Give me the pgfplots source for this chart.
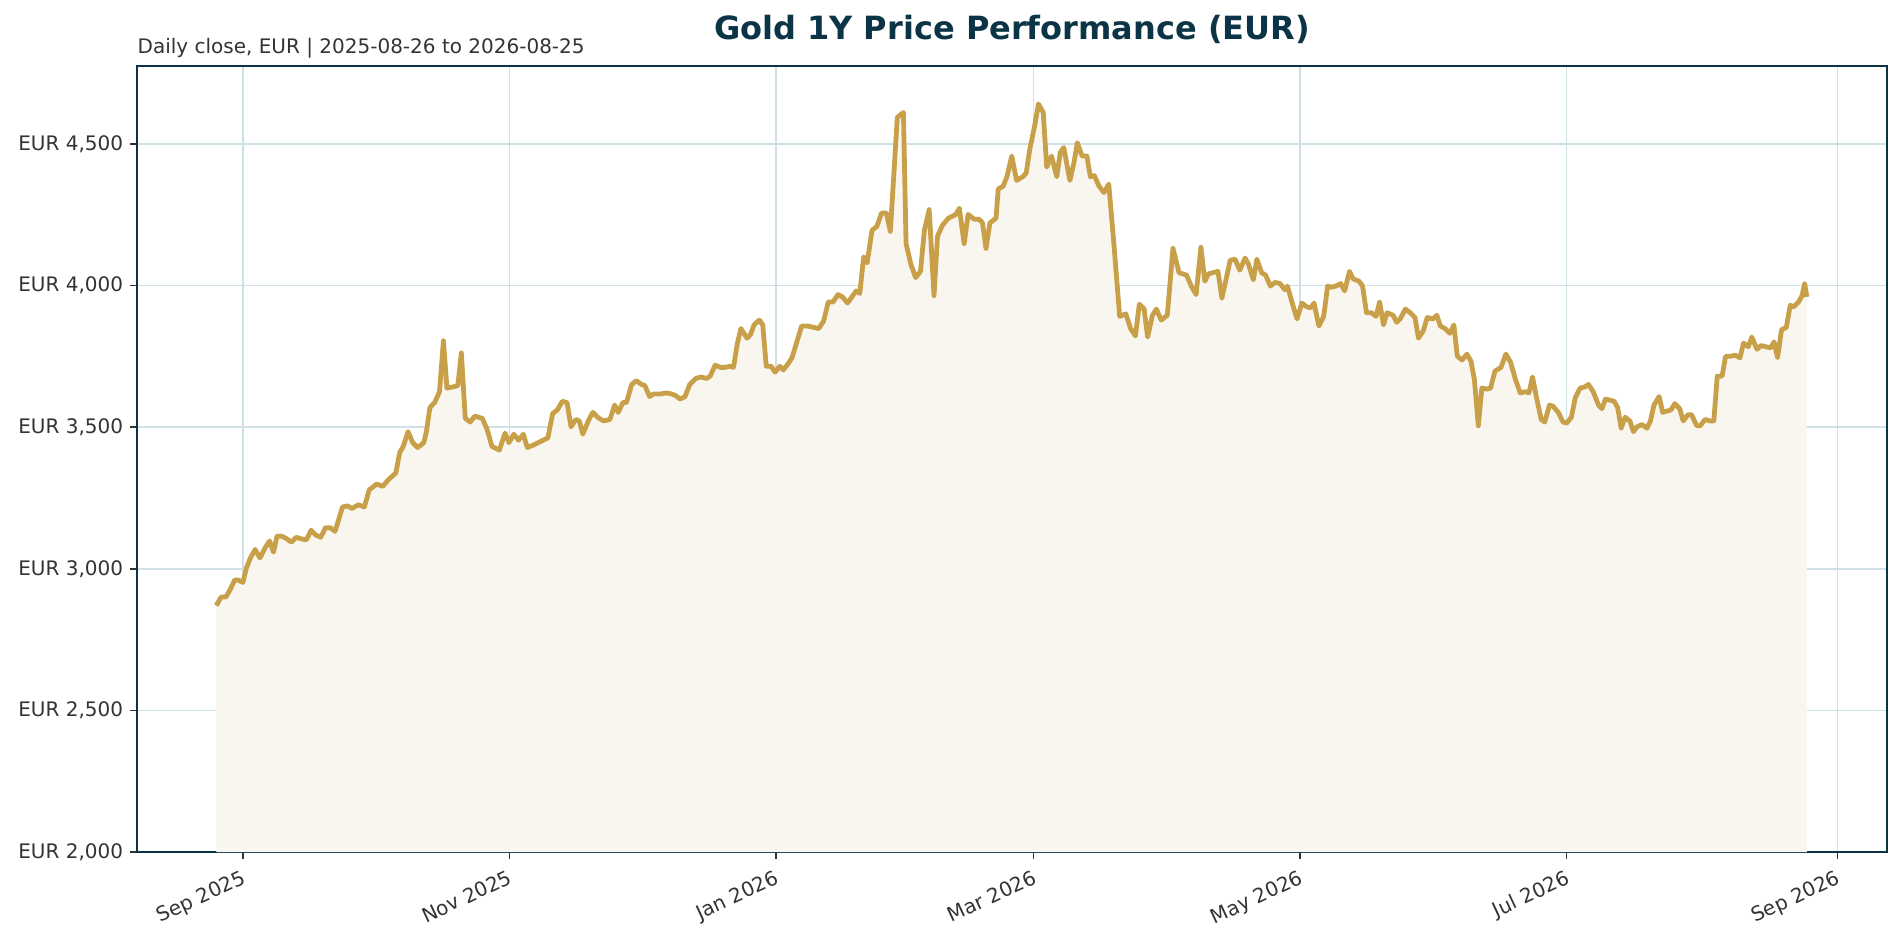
\documentclass[border=0pt]{standalone}
\usepackage{fontspec}
\setmainfont{DejaVu Sans}
\usepackage{pgfplots}
\usepackage{pgfplotstable}
\pgfplotsset{compat=1.18}
\definecolor{gold}{RGB}{201,160,74}
\definecolor{goldfill}{RGB}{249,246,239}
\definecolor{navy}{RGB}{11,52,70}
\definecolor{gridc}{RGB}{208,224,231}
\definecolor{txt}{RGB}{51,51,51}
\pgfplotstableread{
d v
-6.1 2870
-5.0 2900
-3.9 2900
-2.8 2930
-1.9 2960
-1.1 2960
0.0 2952
0.8 3003
1.7 3038
2.8 3068
3.9 3038
5.0 3072
6.1 3098
7.0 3059
7.8 3115
8.9 3115
10.0 3106
11.1 3094
12.2 3111
13.3 3106
14.5 3102
15.6 3136
16.7 3119
17.8 3111
18.9 3145
20.0 3145
21.1 3132
22.2 3188
22.8 3218
23.9 3222
25.0 3213
26.4 3226
27.8 3218
28.9 3278
30.6 3299
32.0 3291
33.4 3316
35.0 3338
35.9 3411
36.7 3432
37.8 3484
38.9 3445
40.0 3428
41.4 3445
42.0 3484
42.8 3569
43.9 3587
45.0 3625
45.9 3805
46.7 3638
48.1 3642
49.2 3647
50.0 3762
50.9 3531
52.0 3518
53.1 3539
54.8 3531
55.9 3492
57.0 3432
58.7 3419
60.0 3479
60.9 3445
62.0 3475
63.1 3454
64.2 3475
65.1 3428
66.4 3436
68.1 3449
69.8 3462
70.9 3548
72.0 3561
73.1 3591
74.2 3587
75.1 3501
76.2 3527
77.0 3522
77.8 3475
79.2 3527
80.1 3552
81.5 3531
82.6 3522
84.0 3527
85.1 3578
85.9 3552
87.0 3587
87.8 3587
89.0 3651
90.1 3664
91.2 3651
92.0 3647
93.1 3608
94.0 3617
95.6 3617
97.0 3621
98.1 3617
99.0 3612
100.1 3599
101.2 3608
102.3 3651
103.7 3672
104.8 3677
106.2 3672
107.0 3681
108.1 3719
109.3 3711
110.4 3711
111.5 3715
112.3 3711
113.2 3797
114.0 3848
115.4 3814
116.2 3827
117.0 3861
118.2 3878
119.0 3861
119.8 3715
120.9 3715
121.8 3694
122.9 3715
123.7 3702
124.8 3724
125.7 3745
126.8 3801
127.9 3857
129.3 3857
130.7 3852
131.8 3848
132.9 3874
134.0 3942
135.1 3942
136.2 3968
137.3 3959
138.4 3938
139.6 3964
140.4 3981
141.2 3972
142.1 4101
142.9 4080
144.0 4195
145.1 4208
146.2 4256
147.3 4256
148.2 4191
148.7 4316
149.8 4594
151.2 4611
151.8 4148
152.9 4075
154.0 4028
155.1 4050
156.0 4195
157.1 4268
158.2 3964
159.0 4174
160.1 4212
161.5 4238
163.2 4251
164.0 4273
165.1 4148
166.0 4251
167.4 4234
168.5 4234
169.3 4221
170.1 4131
171.0 4221
172.4 4238
172.9 4341
174.0 4350
174.9 4384
176.0 4457
177.1 4371
178.5 4384
179.3 4397
180.1 4479
181.3 4569
182.1 4641
183.2 4611
184.0 4418
185.1 4457
186.3 4384
187.1 4470
187.9 4487
189.3 4371
190.2 4431
191.0 4504
192.1 4457
193.2 4457
194.0 4384
194.9 4388
196.0 4350
197.1 4328
198.2 4358
199.3 4161
200.7 3891
202.1 3900
203.2 3848
204.3 3822
205.2 3934
206.3 3917
207.1 3818
208.2 3895
209.1 3917
210.2 3878
211.6 3895
212.9 4131
214.3 4045
216.0 4037
217.1 3998
218.2 3968
219.3 4135
220.2 4015
221.0 4041
223.2 4050
224.1 3955
226.0 4089
227.1 4093
228.2 4054
229.4 4097
230.2 4075
231.3 4020
232.1 4093
233.2 4045
234.1 4037
235.2 3998
236.3 4011
237.4 4007
238.5 3985
239.1 3998
240.2 3938
241.3 3882
242.4 3938
243.5 3925
244.4 3921
245.2 3938
246.3 3857
247.4 3891
248.3 3998
249.1 3994
250.2 3998
251.3 4007
252.2 3981
253.3 4050
254.1 4024
255.5 4015
256.3 3998
257.2 3904
258.3 3904
259.4 3891
260.2 3942
261.1 3861
261.9 3904
263.3 3895
264.1 3870
264.9 3882
266.1 3917
267.2 3904
268.3 3887
269.1 3814
270.2 3840
271.1 3887
272.4 3882
273.3 3895
274.1 3857
275.2 3848
276.3 3831
277.2 3861
278.0 3750
279.1 3737
280.2 3758
281.1 3733
281.9 3668
282.8 3505
283.6 3638
284.8 3634
285.6 3638
286.6 3698
288.0 3711
289.1 3758
290.2 3728
291.3 3668
292.4 3621
293.6 3625
294.4 3621
295.2 3677
296.3 3591
297.2 3527
298.0 3518
299.1 3578
299.9 3574
301.1 3552
302.2 3518
303.0 3514
304.1 3535
305.0 3604
306.1 3638
307.2 3642
308.0 3651
309.1 3625
310.3 3578
311.1 3565
311.9 3599
313.0 3595
313.9 3591
314.7 3569
315.5 3496
316.4 3535
317.5 3522
318.3 3484
319.1 3501
320.3 3509
321.4 3496
322.2 3522
323.0 3578
324.2 3608
325.0 3552
326.1 3557
326.9 3561
327.8 3583
328.9 3565
329.7 3522
330.8 3544
331.6 3544
332.8 3505
333.6 3505
334.7 3527
335.8 3522
336.7 3522
337.5 3680
338.6 3680
339.4 3750
340.5 3750
341.6 3754
342.7 3745
343.5 3797
344.6 3784
345.4 3818
346.6 3775
347.5 3788
348.6 3784
349.7 3780
350.5 3801
351.3 3745
352.2 3844
353.3 3852
354.2 3930
355.0 3925
356.1 3942
356.9 3964
357.5 4007
358.0 3960
}\gold
\begin{document}
\begin{tikzpicture}
\path[use as bounding box] (0,0) rectangle (952pt,472pt);
\begin{axis}[
  at={(68.6pt,46pt)}, anchor=south west,
  width=875pt, height=393pt, scale only axis,
  xmin=-24.2, xmax=376.4,
  ymin=2000, ymax=4775,
  xtick={0,61,122,181,242,303,365},
  xticklabels={Sep 2025,Nov 2025,Jan 2026,Mar 2026,May 2026,Jul 2026,Sep 2026},
  ytick={2000,2500,3000,3500,4000,4500},
  yticklabels={{EUR 2,000},{EUR 2,500},{EUR 3,000},{EUR 3,500},{EUR 4,000},{EUR 4,500}},
  xticklabel style={rotate=25, anchor=north east, font=\fontsize{10}{12}\selectfont, text=txt, inner sep=1pt, yshift=-3pt, xshift=-2pt},
  yticklabel style={font=\fontsize{10}{12}\selectfont, text=txt},
  grid=major,
  major grid style={gridc, line width=0.8pt},
  axis line style={navy, line width=1pt},
  tick style={txt, line width=0.8pt},
  tick align=outside,
  major tick length=3.5pt,
  xtick pos=bottom, ytick pos=left,
]
\addplot[fill=goldfill, draw=none] table[x=d,y=v] {\gold} \closedcycle;
\addplot[gold, line width=2.4pt, line join=round] table[x=d,y=v] {\gold};
\end{axis}
\node[anchor=base, font=\fontsize{16}{19}\selectfont\bfseries, text=navy] at (506pt,452pt) {Gold 1Y Price Performance (EUR)};
\node[anchor=base west, inner sep=0pt, font=\fontsize{10}{12}\selectfont, text=txt] at (68.6pt,445pt) {Daily close, EUR | 2025-08-26 to 2026-08-25};
\end{tikzpicture}
\end{document}
